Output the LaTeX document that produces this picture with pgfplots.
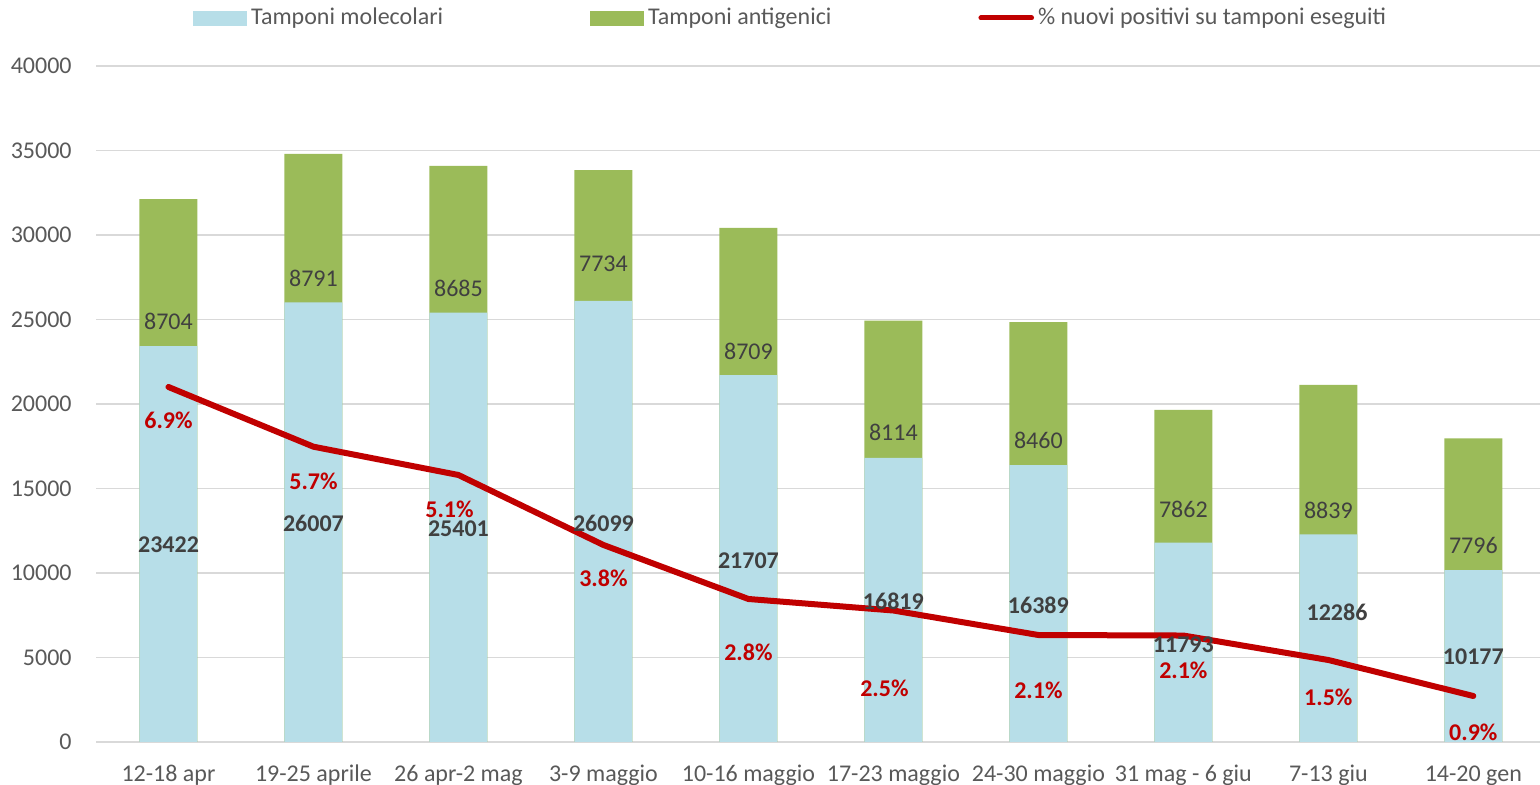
\documentclass[border=0pt]{standalone}
\usepackage{pgfplots}
\pgfplotsset{compat=1.18}
\usepackage{pgfplotstable}
\usepackage{fontspec}
\setmainfont{Carlito}
\definecolor{molblue}{HTML}{B7DEE8}
\definecolor{antgreen}{HTML}{9BBB59}
\definecolor{lred}{HTML}{C00000}
\definecolor{gridgray}{HTML}{D9D9D9}
\definecolor{ticktext}{HTML}{595959}
\definecolor{labeltext}{HTML}{404040}

\pgfplotstableread{
x mol ant
0 23422 8704
1 26007 8791
2 25401 8685
3 26099 7734
4 21707 8709
5 16819 8114
6 16389 8460
7 11793 7862
8 12286 8839
9 10177 7796
}\bars

\pgfplotstableread{
x y
0 21006
1 17473
2 15799
3 11657
4 8462
5 7780
6 6331
7 6300
8 4852
9 2722
}\perc

\newcommand{\lblfont}{\fontsize{12}{14}\selectfont}

\begin{document}
\begin{tikzpicture}
\useasboundingbox (0,0) rectangle (770pt,392.5pt);
\begin{axis}[
  at={(48pt,21.5pt)}, anchor=south west,
  scale only axis, width=722pt, height=338pt,
  xmin=-0.5, xmax=9.46, ymin=0, ymax=40000,
  ytick={0,5000,...,40000},
  xtick={0,...,9},
  xticklabels={12-18 apr, 19-25 aprile, 26 apr-2 mag, 3-9 maggio, 10-16 maggio, 17-23 maggio, 24-30 maggio, 31 mag - 6 giu, 7-13 giu, 14-20 gen},
  axis line style={draw=none},
  major tick length=0pt,
  ymajorgrids, grid style={gridgray, line width=0.9pt},
  tick label style={font=\lblfont, text=ticktext},
  /pgf/number format/assume math mode=true,
  /pgf/number format/1000 sep={},
  scaled y ticks=false,
  yticklabel style={anchor=east, inner sep=0pt, xshift=-12pt},
  xticklabel style={anchor=base, inner sep=0pt, yshift=-20pt},
  legend columns=3,
  legend cell align=left,
  legend style={draw=none, fill=none, at={(0.0672,1.071)}, anchor=west, inner sep=0pt,
    font=\lblfont, text=ticktext, nodes={inner sep=2pt},
    /tikz/every even column/.append style={column sep=71.5pt}},
  clip=false,
]
\addlegendimage{legend image code/.code={\fill[molblue] (0pt,-3.5pt) rectangle (26.5pt,3.5pt);}}
\addlegendentry{Tamponi molecolari}
\addlegendimage{legend image code/.code={\fill[antgreen] (0pt,-3.5pt) rectangle (26.5pt,3.5pt);}}
\addlegendentry{Tamponi antigenici}
\addlegendimage{legend image code/.code={\draw[lred, line width=2.5pt, line cap=round] (1.2pt,0pt) -- (26.5pt,0pt);}}
\addlegendentry{\% nuovi positivi su tamponi eseguiti}

\addplot[ybar, bar width=29pt, bar shift=0pt, fill=antgreen, draw=none, forget plot]
  table[x=x, y expr=\thisrow{mol}+\thisrow{ant}] {\bars};
\addplot[ybar, bar width=29pt, bar shift=0pt, fill=molblue, draw=none, forget plot]
  table[x=x, y=mol] {\bars};

\addplot[lred, line width=3pt, line join=round, line cap=round, mark=none, forget plot]
  table[x=x, y=y] {\perc};

% molecolari labels
\addplot[draw=none, mark=none, forget plot, point meta=explicit symbolic,
  nodes near coords, nodes near coords align=center,
  every node near coord/.append style={anchor=center, inner sep=0pt, font=\bfseries\lblfont, text=labeltext}]
  table[x=x, y=y, meta=lab] {
x y lab
0 11657 23422
1 12959 26007
2 12604 25401
3 12959 26099
4 10710 21707
5 8343 16819
6 8107 16389
7 5740 11793
8.06 7692 12286
9 5030 10177
};

% antigenici labels
\addplot[draw=none, mark=none, forget plot, point meta=explicit symbolic,
  nodes near coords, nodes near coords align=center,
  every node near coord/.append style={anchor=center, inner sep=0pt, font=\lblfont, text=labeltext}]
  table[x=x, y=y, meta=lab] {
x y lab
0 24911 8704
1 27456 8791
2 26864 8685
3 28284 7734
4 23136 8709
5 18343 8114
6 17870 8460
7 13787 7862
8 13728 8839
9 11657 7796
};

% percent labels
\addplot[draw=none, mark=none, forget plot, point meta=explicit symbolic,
  nodes near coords={\pgfplotspointmeta\%}, nodes near coords align=center,
  every node near coord/.append style={anchor=center, inner sep=0pt, font=\bfseries\lblfont, text=lred}]
  table[x=x, y=y, meta=lab] {
x y lab
0 19053 6.9
1 15444 5.7
1.938 13787 5.1
3 9704 3.8
4 5325 2.8
4.938 3195 2.5
6 3077 2.1
7 4260 2.1
8 2663 1.5
9 592 0.9
};
\end{axis}
\end{tikzpicture}
\end{document}
